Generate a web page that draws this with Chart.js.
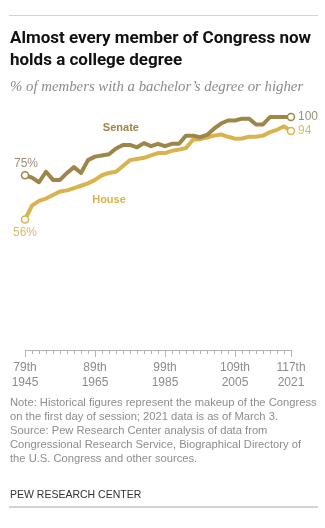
<!DOCTYPE html>
<html>
<head>
<meta charset="utf-8">
<script src="https://cdn.jsdelivr.net/npm/chart.js@4.4.1/dist/chart.umd.min.js"></script>
<style>
    html, body { margin: 0; padding: 0; background: #fff; }
    body { width: 325px; height: 528px; position: relative; overflow: hidden; font-family: "Liberation Sans", Arial, sans-serif; }
    .rule { position: absolute; left: 9px; width: 309px; background: #d2d2d2; }
    #title { position: absolute; left: 10px; top: 26px; margin: 0; font: bold 17px/22px Roboto, sans-serif; color: #111; }
    #subtitle { position: absolute; left: 10px; top: 76px; margin: 0; font: italic 14.8px/20px "Liberation Serif", serif; color: #8a8a8a; white-space: nowrap; }
    #chart-box { position: absolute; left: 0; top: 0; width: 325px; height: 528px; }
    #note { position: absolute; left: 10px; top: 395px; margin: 0; font: 11.2px/14px "Liberation Sans", Arial, sans-serif; color: #8d8d8d; white-space: nowrap; }
    #brand { position: absolute; left: 10px; top: 487px; margin: 0; font: 10.5px/14px "Liberation Sans", Arial, sans-serif; color: #333; }
</style>
</head>
<body>
<div class="rule" style="top:15px;height:1px"></div>
<div id="chart-box"><canvas id="degree-chart"></canvas></div>
<h1 id="title">Almost every member of Congress now<br>holds a college degree</h1>
<p id="subtitle">% of members with a bachelor’s degree or higher</p>
<p id="note">Note: Historical figures represent the makeup of the Congress<br>on the first day of session; 2021 data is as of March 3.<br>Source: Pew Research Center analysis of data from<br>Congressional Research Service, Biographical Directory of<br>the U.S. Congress and other sources.</p>
<p id="brand">PEW RESEARCH CENTER</p>
<div class="rule" style="top:506px;height:2px"></div>

<script>
const sessions = ['79th', '80th', '81st', '82nd', '83rd', '84th', '85th', '86th', '87th', '88th',
    '89th', '90th', '91st', '92nd', '93rd', '94th', '95th', '96th', '97th', '98th',
    '99th', '100th', '101st', '102nd', '103rd', '104th', '105th', '106th', '107th', '108th',
    '109th', '110th', '111th', '112th', '113th', '114th', '115th', '116th', '117th'];
const years = ['1945', '1947', '1949', '1951', '1953', '1955', '1957', '1959', '1961', '1963',
    '1965', '1967', '1969', '1971', '1973', '1975', '1977', '1979', '1981', '1983',
    '1985', '1987', '1989', '1991', '1993', '1995', '1997', '1999', '2001', '2003',
    '2005', '2007', '2009', '2011', '2013', '2015', '2017', '2019', '2021'];
const senate = [75, 74, 72, 76.5, 73, 73, 76, 78.5, 76, 81.5,
    83, 83.5, 84, 86.5, 88, 88, 87, 88.8, 87.5, 88.5,
    87.5, 88.5, 88.5, 92, 92, 91.3, 92.3, 95, 97.2, 98.5,
    98.5, 99.3, 99.3, 96.8, 96.8, 100, 100, 100, 100];
const house = [56, 62, 64, 65, 66.5, 68, 68.5, 69.5, 70.5, 71.5,
    73, 75, 76, 76.5, 79, 81.5, 82, 82.5, 83.5, 84.5,
    84.5, 85.5, 86, 86.7, 90.3, 90.5, 91.2, 92, 92.5, 91.5,
    90.7, 90.8, 91.5, 91.5, 92, 93.5, 94.5, 96, 94];
const majorTicks = ['79th', '89th', '99th', '109th', '117th'];

const SENATE_COLOR = '#9e8548';
const HOUSE_COLOR = '#d8b34e';
const AXIS_COLOR = '#b4b4b4';

// only the first and last point of each line get a hollow marker
const endsOnly = (size) => sessions.map((s, i) => (i === 0 || i === sessions.length - 1) ? size : 0);

// longer ticks under the labelled sessions
const majorTickMarks = {
    id: 'majorTickMarks',
    afterDraw(chart) {
        const {ctx, chartArea} = chart;
        const x = chart.scales.x;
        ctx.save();
        ctx.strokeStyle = AXIS_COLOR;
        ctx.lineWidth = 1;
        majorTicks.forEach(label => {
            const px = Math.round(x.getPixelForValue(sessions.indexOf(label))) + 0.5;
            ctx.beginPath();
            ctx.moveTo(px, chartArea.bottom);
            ctx.lineTo(px, chartArea.bottom + 7);
            ctx.stroke();
        });
        ctx.restore();
    }
};

// series names and start/end values written next to the lines
const lineLabels = {
    id: 'lineLabels',
    afterDatasetsDraw(chart) {
        const {ctx} = chart;
        const x = chart.scales.x;
        const y = chart.scales.y;
        const last = sessions.length - 1;
        ctx.save();
        ctx.textBaseline = 'middle';

        ctx.font = 'bold 11px "Liberation Sans", Arial, sans-serif';
        ctx.textAlign = 'center';
        ctx.fillStyle = SENATE_COLOR;
        ctx.fillText('Senate', x.getPixelForValue(13.7), y.getPixelForValue(95.5));
        ctx.fillStyle = HOUSE_COLOR;
        ctx.fillText('House', x.getPixelForValue(12), y.getPixelForValue(64.5));

        ctx.font = '12px "Liberation Sans", Arial, sans-serif';
        ctx.fillStyle = '#9b9078';
        ctx.fillText(senate[0] + '%', x.getPixelForValue(0) + 1, y.getPixelForValue(senate[0]) - 12);
        ctx.fillStyle = '#d6bb72';
        ctx.fillText(house[0] + '%', x.getPixelForValue(0), y.getPixelForValue(house[0]) + 13);

        ctx.textAlign = 'left';
        ctx.fillStyle = '#9b9078';
        ctx.fillText(String(senate[last]), x.getPixelForValue(last) + 7, y.getPixelForValue(senate[last]));
        ctx.fillStyle = '#d6bb72';
        ctx.fillText(String(house[last]), x.getPixelForValue(last) + 7, y.getPixelForValue(house[last]));
        ctx.restore();
    }
};

const chart = new Chart(document.getElementById('degree-chart'), {
    type: 'line',
    data: {
        labels: sessions,
        datasets: [
            {
                label: 'Senate',
                data: senate,
                borderColor: SENATE_COLOR,
                pointBorderColor: SENATE_COLOR,
            },
            {
                label: 'House',
                data: house,
                borderColor: HOUSE_COLOR,
                pointBorderColor: HOUSE_COLOR,
            }
        ].map(ds => ({
            ...ds,
            borderWidth: 4,
            tension: 0,
            borderJoinStyle: 'round',
            clip: false,
            pointRadius: endsOnly(3.5),
            pointBorderWidth: 1.5,
            pointBackgroundColor: '#fff',
            pointHoverRadius: endsOnly(3.5),
        }))
    },
    options: {
        responsive: true,
        maintainAspectRatio: false,
        animation: false,
        events: [],
        layout: {
            padding: {left: 25, right: 34, top: 117, bottom: 138}
        },
        plugins: {
            legend: {display: false},
            tooltip: {enabled: false},
        },
        scales: {
            y: {
                display: false,
                min: 0,
                max: 100,
            },
            x: {
                offset: false,
                afterFit: (scale) => { scale.height = 40; },
                border: {display: true, color: AXIS_COLOR},
                grid: {
                    drawOnChartArea: false,
                    drawTicks: true,
                    tickLength: 4,
                    color: AXIS_COLOR,
                },
                ticks: {
                    autoSkip: false,
                    maxRotation: 0,
                    padding: 6,
                    color: '#8c8c8c',
                    font: {family: '"Liberation Sans", Arial, sans-serif', size: 12, lineHeight: 1.25},
                    callback: (value, index) => majorTicks.includes(sessions[index]) ? [sessions[index], years[index]] : '',
                }
            }
        }
    },
    plugins: [majorTickMarks, lineLabels]
});
</script>
</body>
</html>
